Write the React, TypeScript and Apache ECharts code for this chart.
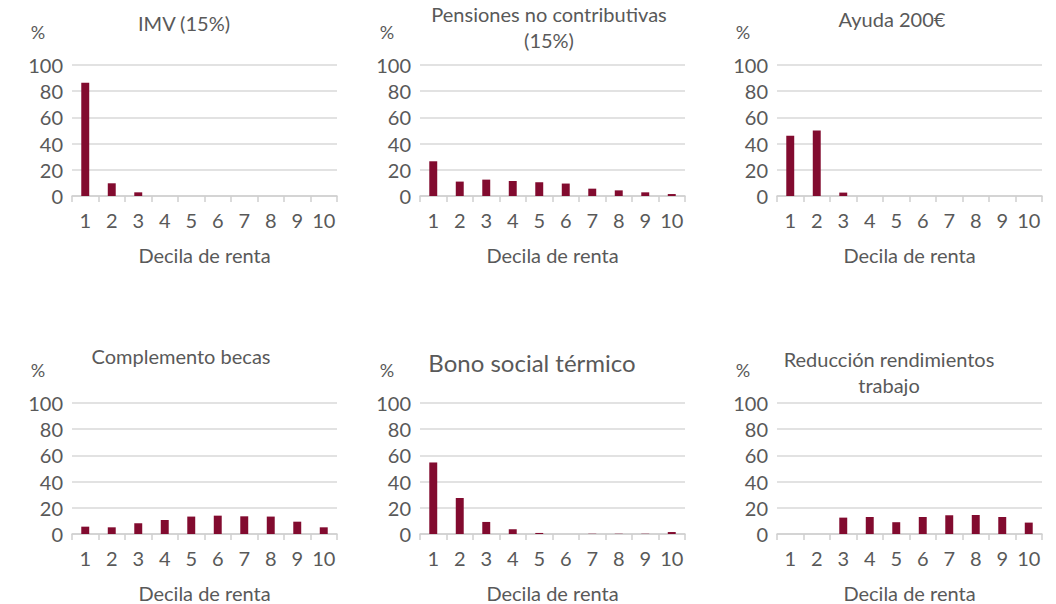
import React, { useEffect, useRef } from "react";
import * as echarts from "echarts";

const deciles = ["1", "2", "3", "4", "5", "6", "7", "8", "9", "10"];
const titles = [
  "IMV (15%)",
  "Pensiones no contributivas\n(15%)",
  "Ayuda 200€",
  "Complemento becas",
  "Bono social térmico",
  "Reducción rendimientos\ntrabajo",
];
const imv = [86.5, 9.7, 2.8, 0, 0, 0, 0, 0, 0, 0];
const pensiones = [26.5, 11, 12.5, 11.5, 10.5, 9.5, 5.6, 4.3, 2.8, 1.5];
const ayuda = [46, 50, 2.6, 0, 0, 0, 0, 0, 0, 0];
const becas = [5.6, 5.1, 8.2, 10.7, 13.3, 14, 13.5, 13.3, 9.4, 5.1];
const bono = [54.6, 27.5, 9.2, 3.6, 0.8, 0, 0.2, 0.2, 0.2, 1.5];
const reduccion = [0, 0, 12.5, 13, 9, 13, 14.3, 14.5, 13, 8.7];
const seriesData = [imv, pensiones, ayuda, becas, bono, reduccion];
const yTicks = { min: 0, max: 100, interval: 20 };
const xAxisName = "Decila de renta";
const unit = "%";

const FONT = "Lato, 'Open Sans', sans-serif";
const TXT = "#595959";
const GRID_C = "#d9d9d9";
const BAR_C = "#820b2f";

const colLeft = [72, 420, 777];
const rowTop = [65, 403];
const W = 265;
const H = 131;

const titlePos = [
  { x: 184, y: 23, size: 20 },
  { x: 549, y: 27, size: 20 },
  { x: 892, y: 19, size: 20 },
  { x: 181, y: 356, size: 20 },
  { x: 532, y: 362, size: 24 },
  { x: 889, y: 372, size: 20 },
];
const pctX = [38, 387, 743];
const pctY = [32, 370];

export default function App() {
  const ref = useRef<HTMLDivElement>(null);
  useEffect(() => {
    if (!ref.current) return;
    const chart = echarts.init(ref.current, undefined, { renderer: "svg" });
    const grid: any[] = [];
    const xAxis: any[] = [];
    const yAxis: any[] = [];
    const series: any[] = [];
    const graphic: any[] = [];
    seriesData.forEach((d, i) => {
      const r = Math.floor(i / 3);
      const c = i % 3;
      grid.push({ left: colLeft[c], top: rowTop[r], width: W, height: H, containLabel: false });
      xAxis.push({
        type: "category",
        gridIndex: i,
        data: deciles,
        boundaryGap: true,
        name: xAxisName,
        nameLocation: "middle",
        nameGap: 49,
        nameTextStyle: { color: TXT, fontSize: 20, fontFamily: FONT },
        axisLine: { lineStyle: { color: "#cfcfcf", width: 1.5 } },
        axisTick: { show: true, interval: 0, length: 6, lineStyle: { color: "#cfcfcf", width: 1.5 } },
        axisLabel: { color: TXT, fontSize: 20, fontFamily: FONT, margin: 14, interval: 0 },
      });
      yAxis.push({
        type: "value",
        gridIndex: i,
        min: yTicks.min,
        max: yTicks.max,
        interval: yTicks.interval,
        axisLine: { show: false },
        axisTick: { show: false },
        splitLine: { lineStyle: { color: GRID_C, width: 1.5 } },
        axisLabel: { color: TXT, fontSize: 20, fontFamily: FONT, margin: 9 },
      });
      series.push({
        type: "bar",
        xAxisIndex: i,
        yAxisIndex: i,
        data: d,
        barWidth: "30%",
        itemStyle: { color: BAR_C },
      });
      const tp = titlePos[i];
      graphic.push({
        type: "text",
        x: tp.x,
        y: tp.y,
        style: {
          text: titles[i],
          align: "center",
          verticalAlign: "middle",
          fontSize: tp.size,
          fontFamily: FONT,
          fill: TXT,
          lineHeight: 26,
        },
      });
      graphic.push({
        type: "text",
        x: pctX[c],
        y: pctY[r],
        style: {
          text: unit,
          align: "center",
          verticalAlign: "middle",
          fontSize: 18,
          fontFamily: FONT,
          fill: TXT,
        },
      });
    });
    chart.setOption({
      animation: false,
      backgroundColor: "#ffffff",
      grid,
      xAxis,
      yAxis,
      series,
      graphic,
    });
    return () => chart.dispose();
  }, []);
  return (
    <div
      ref={ref}
      style={{ position: "fixed", left: 0, top: 0, width: 1056, height: 604 }}
    />
  );
}
